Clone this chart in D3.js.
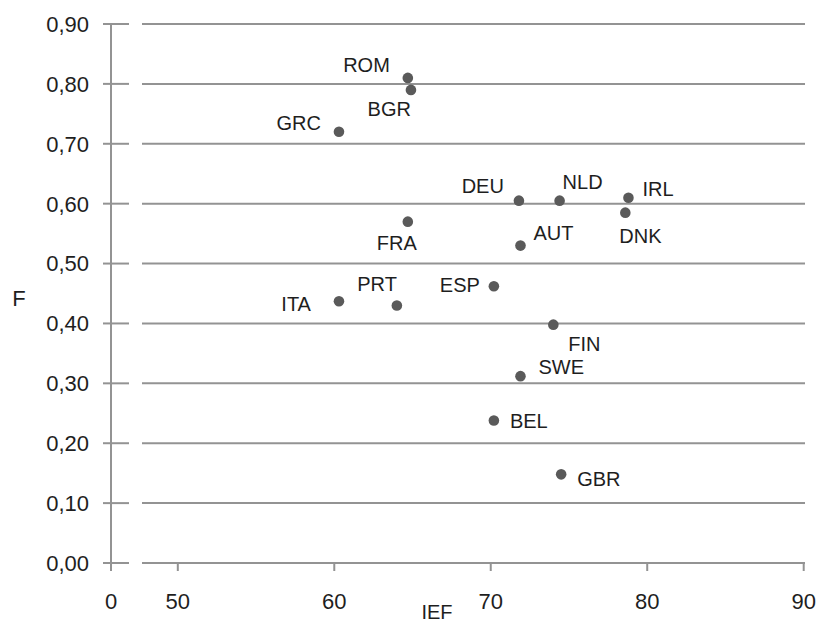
<!DOCTYPE html>
<html><head><meta charset="utf-8">
<script src="https://cdn.jsdelivr.net/npm/d3@7"></script>
<style>
html,body{margin:0;padding:0;background:#fff;}
svg{display:block;font-family:"Liberation Sans",Arial,sans-serif;}
</style></head>
<body>
<svg id="chart" width="819" height="624"></svg>
<script>
// ---- data ----
const countries = ["ROM","BGR","GRC","DEU","NLD","IRL","DNK","AUT","FRA","ESP","ITA","PRT","FIN","SWE","BEL","GBR"];
const ief = [64.7,64.9,60.3,71.8,74.4,78.8,78.6,71.9,64.7,70.2,60.3,64.0,74.0,71.9,70.2,74.5];
const fValues = [0.81,0.79,0.72,0.605,0.605,0.61,0.585,0.53,0.57,0.462,0.437,0.43,0.398,0.312,0.238,0.148];
const xTicks = [0,50,60,70,80,90];
const yTicks = [0,0.1,0.2,0.3,0.4,0.5,0.6,0.7,0.8,0.9];
const xTitle = "IEF";
const yTitle = "F";

// label placement (style only): [anchor, dx, dy]
const labelPos = {
  ROM:["end",-18,-6], BGR:["end",0,26], GRC:["end",-18,-2], DEU:["end",-15,-8],
  NLD:["start",3,-12], IRL:["start",14,-2], DNK:["start",-6,30], AUT:["start",13,-6],
  FRA:["end",9,28], ESP:["end",-14,6], ITA:["end",-28,10], PRT:["end",0,-14],
  FIN:["start",15,26], SWE:["start",18,-2], BEL:["start",16,8], GBR:["start",16,12]
};

const svg = d3.select("#chart");
const axisX = 111, breakL = 129, breakR = 142, right = 805;
const x = d3.scaleLinear().domain([0,50,90]).range([axisX,177.8,803.7]);
const y = d3.scaleLinear().domain([0,0.9]).range([563,24]);
const gridCol = "#939393", textCol = "#1e1e1e";

// gridlines (with axis break gap)
const g = svg.append("g");
yTicks.forEach(t => {
  g.append("line").attr("x1",103).attr("x2",breakL).attr("y1",y(t)).attr("y2",y(t))
    .attr("stroke",gridCol).attr("stroke-width",2);
  g.append("line").attr("x1",breakR).attr("x2",right).attr("y1",y(t)).attr("y2",y(t))
    .attr("stroke",gridCol).attr("stroke-width",2);
});
// y axis line
g.append("line").attr("x1",axisX).attr("x2",axisX).attr("y1",y(0.9)).attr("y2",571)
  .attr("stroke",gridCol).attr("stroke-width",2);
// x ticks
xTicks.forEach(t => {
  g.append("line").attr("x1",x(t)).attr("x2",x(t)).attr("y1",y(0)).attr("y2",571)
    .attr("stroke",gridCol).attr("stroke-width",2);
});

// tick labels
const fmt = d => d3.format(".2f")(d).replace(".",",");
svg.append("g").selectAll("text").data(yTicks).join("text")
  .attr("x",89).attr("y",d=>y(d)).attr("dy","0.36em").attr("text-anchor","end")
  .attr("font-size",22).attr("fill",textCol).text(fmt);
svg.append("g").selectAll("text").data(xTicks).join("text")
  .attr("x",d=>x(d)).attr("y",609).attr("text-anchor","middle")
  .attr("font-size",22).attr("fill",textCol).text(d=>d);

// axis titles
svg.append("text").attr("x",437).attr("y",619).attr("text-anchor","middle")
  .attr("font-size",20).attr("fill",textCol).text(xTitle);
svg.append("text").attr("x",19).attr("y",306).attr("text-anchor","middle")
  .attr("font-size",22).attr("fill",textCol).text(yTitle);

// points
const data = countries.map((c,i)=>({c, x:ief[i], y:fValues[i]}));
svg.append("g").selectAll("circle").data(data).join("circle")
  .attr("cx",d=>x(d.x)).attr("cy",d=>y(d.y)).attr("r",5.3).attr("fill","#5a5a5a");
svg.append("g").selectAll("text").data(data).join("text")
  .attr("x",d=>x(d.x)+labelPos[d.c][1]).attr("y",d=>y(d.y)+labelPos[d.c][2])
  .attr("text-anchor",d=>labelPos[d.c][0])
  .attr("font-size",20).attr("fill",textCol).text(d=>d.c);
</script>
</body></html>
